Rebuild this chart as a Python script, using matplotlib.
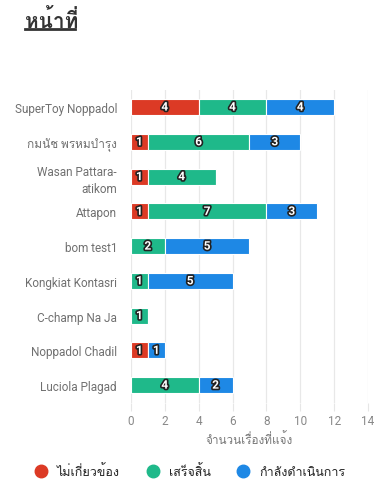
import matplotlib
matplotlib.use("Agg")
import matplotlib.pyplot as plt
import matplotlib.patheffects as pe
from matplotlib import font_manager
from matplotlib.ft2font import FT2Font
from matplotlib.lines import Line2D
import numpy as np

# data
people = ["SuperToy Noppadol", "กมนัช พรหมบำรุง", "Wasan Pattara-\natikom", "Attapon",
          "bom test1", "Kongkiat Kontasri", "C-champ Na Ja", "Noppadol Chadil",
          "Luciola Plagad"]
not_related = [4, 1, 1, 1, 0, 0, 0, 1, 0]
done = [4, 6, 4, 7, 2, 1, 1, 0, 4]
in_progress = [4, 3, 0, 3, 5, 5, 0, 1, 2]
series_names = ["ไม่เกี่ยวข้อง", "เสร็จสิ้น", "กำลังดำเนินการ"]
colors = ["#dc3a25", "#1fb98a", "#1e88e5"]
x_ticks = [0, 2, 4, 6, 8, 10, 12, 14]


# find a font that has thai glyphs
def find_thai_font():
    for f in font_manager.fontManager.ttflist:
        try:
            if 0x0E01 in FT2Font(f.fname).get_charmap():
                return f.name
        except Exception:
            pass
    return None


thai = find_thai_font()
fams = ["Roboto"] + ([thai] if thai else []) + ["DejaVu Sans"]
plt.rcParams["font.family"] = fams

fig = plt.figure(figsize=(3.74, 4.85), dpi=100)
ax = fig.add_axes([0.350, 0.168, 0.634, 0.645])

y = np.arange(len(people))
left = np.zeros(len(people))
for vals, c in zip([not_related, done, in_progress], colors):
    vals = np.array(vals, dtype=float)
    bars = ax.barh(y, vals, left=left, height=0.46, color=c, edgecolor="white",
                   linewidth=0.8, zorder=3)
    for b, v in zip(bars, vals):
        if v > 0:
            ax.text(b.get_x() + b.get_width() / 2, b.get_y() + b.get_height() / 2,
                    str(int(v)), ha="center", va="center", color="white",
                    fontsize=8.5, fontweight="bold", zorder=4,
                    path_effects=[pe.withStroke(linewidth=2.4, foreground="#222222")])
    left += vals

ax.set_ylim(len(people) - 0.5, -0.5)
ax.set_xlim(0, 14)
ax.set_xticks(x_ticks)
ax.set_yticks(y)
ax.set_yticklabels(people, fontsize=8.5, color="#707070", linespacing=1.4)
ax.tick_params(axis="y", length=0, pad=10)
ax.tick_params(axis="x", length=6, color="#e6e6e6", labelsize=8.5,
               labelcolor="#888888", pad=2)
ax.grid(axis="x", color="#e8e8e8", linewidth=0.9, zorder=0)
for s in ax.spines.values():
    s.set_visible(False)
ax.set_xlabel("จำนวนเรื่องที่แจ้ง", fontsize=8.5, color="#777777", labelpad=4)

handles = [Line2D([], [], marker="o", linestyle="", markersize=9, color=c) for c in colors]
fig.legend(handles, series_names, loc="center", bbox_to_anchor=(0.5, 0.027), ncol=3,
           frameon=False, fontsize=9, handletextpad=0.3, columnspacing=1.6,
           labelcolor="#222222")

fig.text(0.067, 0.943, "หน้าที่", fontsize=15, fontweight="bold", color="#333333",
         ha="left", va="baseline")
fig.add_artist(Line2D([0.067, 0.201], [0.938, 0.938], color="#333333", linewidth=2))

fig.savefig("out.png", dpi=100)
